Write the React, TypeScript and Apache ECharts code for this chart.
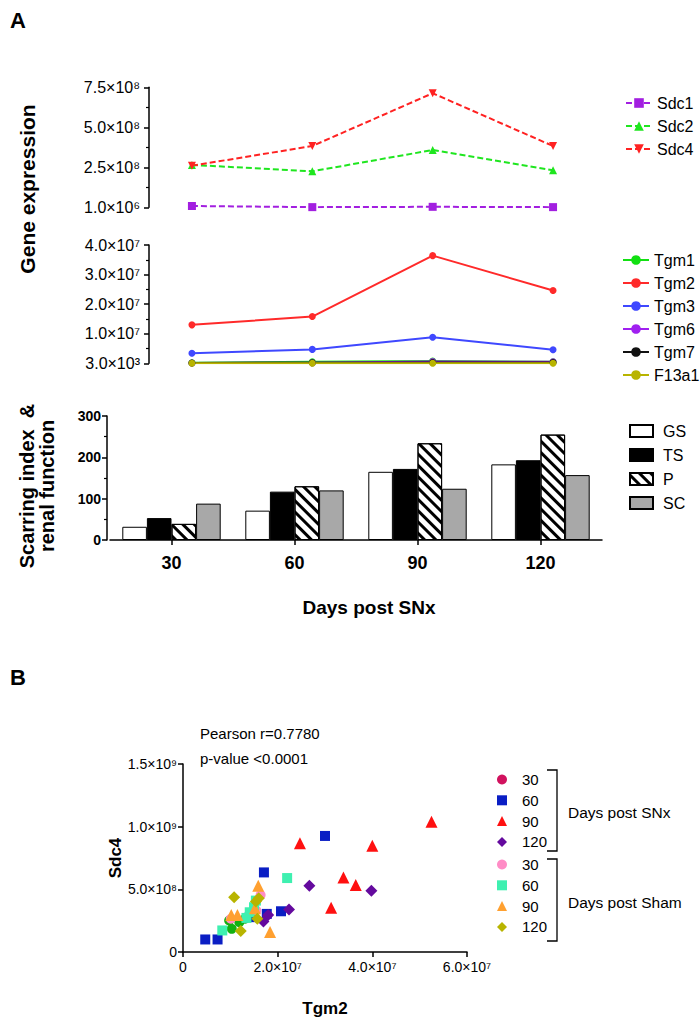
import React, { useEffect, useRef } from 'react';
import * as echarts from 'echarts';

// ---------- data ----------
const days = [30, 60, 90, 120];
const dayLabels = ['30', '60', '90', '120'];

const sdcNames = ['Sdc1', 'Sdc2', 'Sdc4'];
const sdc1 = [8e6, 1e6, 3e6, 1e6];
const sdc2 = [2.65e8, 2.25e8, 3.58e8, 2.31e8];
const sdc4 = [2.6e8, 3.83e8, 7.13e8, 3.83e8];
const sdcTicks = ['1.0×10⁶', '2.5×10⁸', '5.0×10⁸', '7.5×10⁸'];

const tgmNames = ['Tgm1', 'Tgm2', 'Tgm3', 'Tgm6', 'Tgm7', 'F13a1'];
const tgm1 = [2e5, 5e5, 8e5, 5e5];
const tgm2 = [1.3e7, 1.58e7, 3.64e7, 2.46e7];
const tgm3 = [3.4e6, 4.7e6, 8.8e6, 4.6e6];
const tgm6 = [1e5, 2e5, 6e5, 5e5];
const tgm7 = [1e5, 2e5, 3e5, 3e5];
const f13a1 = [3e3, 3e3, 3e3, 3e3];
const tgmTicks = ['3.0×10³', '1.0×10⁷', '2.0×10⁷', '3.0×10⁷', '4.0×10⁷'];

const barNames = ['GS', 'TS', 'P', 'SC'];
const gsVals = [32, 71, 165, 183];
const tsVals = [53, 117, 172, 193];
const pVals = [39, 130, 234, 255];
const scVals = [88, 120, 124, 157];

// scatter: [Tgm2, Sdc4]
const snx30 = [[9.75e6, 2.51e8], [1.03e7, 1.85e8], [1.19e7, 2.38e8], [1.31e7, 2.65e8]];
const snx60 = [[4.7e6, 1.0e8], [7.3e6, 1.0e8], [1.41e7, 2.78e8], [1.71e7, 6.35e8], [1.77e7, 3.04e8], [2.07e7, 3.25e8], [3.0e7, 9.26e8]];
const snx90 = [[2.47e7, 8.68e8], [5.25e7, 1.04e9], [4.0e7, 8.47e8], [3.39e7, 5.95e8], [3.65e7, 5.34e8], [3.13e7, 3.54e8]];
const snx120 = [[2.67e7, 5.29e8], [3.98e7, 4.89e8], [2.24e7, 3.39e8], [1.8e7, 2.96e8], [1.7e7, 2.43e8]];
const sham30 = [[1.01e7, 2.65e8], [1.64e7, 4.55e8], [1.55e7, 3.31e8]];
const sham60 = [[8.3e6, 1.72e8], [2.2e7, 5.9e8], [1.34e7, 2.72e8], [1.41e7, 3.17e8], [1.5e7, 3.57e8], [1.54e7, 4.1e8]];
const sham90 = [[1.02e7, 2.96e8], [1.15e7, 2.96e8], [1.59e7, 5.29e8], [1.84e7, 1.59e8], [1.52e7, 3.49e8]];
const sham120 = [[1.08e7, 4.37e8], [1.22e7, 1.67e8], [1.57e7, 2.65e8], [1.54e7, 4.02e8], [1.6e7, 4.29e8]];
const scatterXTicks = ['0', '2.0×10⁷', '4.0×10⁷', '6.0×10⁷'];
const scatterYTicks = ['0', '5.0×10⁸', '1.0×10⁹', '1.5×10⁹'];
const pearsonR = 'Pearson r=0.7780';
const pValue = 'p-value <0.0001';

const FONT = 'Arial, "Liberation Sans", Helvetica, sans-serif';

const axisLine = { show: true, lineStyle: { color: '#000', width: 1.5 } };
const axisTick = { show: true, inside: false, length: 5, lineStyle: { color: '#000', width: 1.5 } };
const minorTick = { show: true, splitNumber: 2, length: 3, lineStyle: { color: '#000', width: 1.2 } };

function lineSeries(name: string, vals: number[], idx: number, color: string, symbol: string, dashed: boolean, extra: any = {}) {
  return {
    name,
    type: 'line',
    xAxisIndex: idx,
    yAxisIndex: idx,
    data: days.map((d, i) => [d, vals[i]]),
    symbol,
    symbolSize: dashed ? 8 : 7,
    itemStyle: { color },
    lineStyle: { color, width: 2, type: dashed ? [6, 3] : 'solid' },
    ...extra,
  };
}

function scatterSeries(name: string, data: number[][], color: string, symbol: string, size: number) {
  return {
    name,
    type: 'scatter',
    xAxisIndex: 3,
    yAxisIndex: 3,
    data,
    symbol,
    symbolSize: size,
    itemStyle: { color, opacity: 1 },
  };
}

export default function App() {
  const ref = useRef<HTMLDivElement>(null);
  useEffect(() => {
    const chart = echarts.init(ref.current!, null, { renderer: 'svg' });
    const option: any = {
      animation: false,
      backgroundColor: '#fff',
      textStyle: { fontFamily: FONT, color: '#000' },
      grid: [
        { left: 149, top: 87.3, width: 451, height: 120 },
        { left: 149, top: 245, width: 451, height: 118.3 },
        { left: 110, top: 416, width: 492, height: 124 },
        { left: 183, top: 764, width: 284, height: 189 },
      ],
      xAxis: [
        { type: 'value', gridIndex: 0, min: 19.3, max: 131.7, show: false },
        { type: 'value', gridIndex: 1, min: 19.3, max: 131.7, show: false },
        {
          type: 'category', gridIndex: 2, data: dayLabels,
          axisLine, axisTick: { ...axisTick, alignWithLabel: true },
          axisLabel: { fontSize: 18, fontWeight: 'bold', color: '#000', margin: 14, fontFamily: FONT },
        },
        {
          type: 'value', gridIndex: 3, min: 0, max: 6e7, interval: 2e7,
          axisLine, axisTick, splitLine: { show: false },
          axisLabel: { fontSize: 14, color: '#000', margin: 8, fontFamily: FONT, formatter: (v: number) => scatterXTicks[Math.round(v / 2e7)] },
          name: 'Tgm2', nameLocation: 'middle', nameGap: 48,
          nameTextStyle: { fontSize: 17, fontWeight: 'bold', color: '#000', fontFamily: FONT },
        },
      ],
      yAxis: [
        {
          type: 'value', gridIndex: 0, min: 0, max: 7.5e8, interval: 2.5e8,
          axisLine, axisTick, minorTick, splitLine: { show: false },
          axisLabel: { fontSize: 16, color: '#000', margin: 9, fontFamily: FONT, formatter: (v: number) => sdcTicks[Math.round(v / 2.5e8)] },
        },
        {
          type: 'value', gridIndex: 1, min: 0, max: 4e7, interval: 1e7,
          axisLine, axisTick, minorTick, splitLine: { show: false },
          axisLabel: { fontSize: 16, color: '#000', margin: 9, fontFamily: FONT, formatter: (v: number) => tgmTicks[Math.round(v / 1e7)] },
        },
        {
          type: 'value', gridIndex: 2, min: 0, max: 300, interval: 100, offset: 3,
          axisLine, axisTick, minorTick, splitLine: { show: false },
          axisLabel: { fontSize: 14, fontWeight: 'bold', color: '#000', margin: 6, fontFamily: FONT },
        },
        {
          type: 'value', gridIndex: 3, min: 0, max: 1.5e9, interval: 5e8,
          axisLine, axisTick, splitLine: { show: false },
          axisLabel: { fontSize: 14, color: '#000', margin: 6, fontFamily: FONT, formatter: (v: number) => scatterYTicks[Math.round(v / 5e8)] },
          name: 'Sdc4', nameLocation: 'middle', nameGap: 38,
          nameTextStyle: { fontSize: 17, fontWeight: 'bold', color: '#000', fontFamily: FONT },
        },
      ],
      legend: [
        {
          data: sdcNames, orient: 'vertical', left: 620, top: 90, itemWidth: 26, itemHeight: 12, itemGap: 7,
          selectedMode: false, textStyle: { fontSize: 16, color: '#000', fontFamily: FONT },
        },
        {
          data: tgmNames, orient: 'vertical', left: 617, top: 247, itemWidth: 26, itemHeight: 12, itemGap: 7,
          selectedMode: false, textStyle: { fontSize: 16, color: '#000', fontFamily: FONT },
        },
        {
          data: barNames, orient: 'vertical', left: 624, top: 418, itemWidth: 23, itemHeight: 12, itemGap: 8,
          icon: 'rect', selectedMode: false, textStyle: { fontSize: 16, color: '#000', fontFamily: FONT, padding: [0, 0, 0, 5] },
        },
        {
          data: [
            { name: 'SNx 30', itemStyle: { color: '#d1125e' } },
            'SNx 60', 'SNx 90', 'SNx 120',
          ],
          orient: 'vertical', left: 492, top: 767, itemWidth: 10, itemHeight: 10, itemGap: 5.8,
          selectedMode: false, formatter: (n: string) => n.split(' ')[1],
          textStyle: { fontSize: 15, color: '#000', fontFamily: FONT, padding: [0, 0, 0, 10] },
        },
        {
          data: ['Sham 30', 'Sham 60', 'Sham 90', 'Sham 120'],
          orient: 'vertical', left: 492, top: 852, itemWidth: 10, itemHeight: 10, itemGap: 5.8,
          selectedMode: false, formatter: (n: string) => n.split(' ')[1],
          textStyle: { fontSize: 15, color: '#000', fontFamily: FONT, padding: [0, 0, 0, 10] },
        },
      ],
      series: [
        lineSeries('Sdc1', sdc1, 0, '#a21fe0', 'rect', true),
        lineSeries('Sdc2', sdc2, 0, '#1fe61f', 'triangle', true),
        lineSeries('Sdc4', sdc4, 0, '#ff2222', 'triangle', true, { symbolRotate: 180 }),
        lineSeries('Tgm1', tgm1, 1, '#12e012', 'circle', false),
        lineSeries('Tgm2', tgm2, 1, '#ff2a2a', 'circle', false),
        lineSeries('Tgm3', tgm3, 1, '#3f48ff', 'circle', false),
        lineSeries('Tgm6', tgm6, 1, '#a020f0', 'circle', false),
        lineSeries('Tgm7', tgm7, 1, '#111111', 'circle', false),
        lineSeries('F13a1', f13a1, 1, '#b8b400', 'circle', false),
        {
          name: 'GS', type: 'bar', xAxisIndex: 2, yAxisIndex: 2, data: gsVals,
          barCategoryGap: '20%', barGap: '0%',
          itemStyle: { color: '#ffffff', borderColor: '#000', borderWidth: 1 },
        },
        {
          name: 'TS', type: 'bar', xAxisIndex: 2, yAxisIndex: 2, data: tsVals,
          barCategoryGap: '20%', barGap: '0%',
          itemStyle: { color: '#000000', borderColor: '#000', borderWidth: 1 },
        },
        {
          name: 'P', type: 'bar', xAxisIndex: 2, yAxisIndex: 2, data: pVals,
          barCategoryGap: '20%', barGap: '0%',
          itemStyle: {
            color: '#ffffff', borderColor: '#000', borderWidth: 1,
            decal: {
              symbol: 'rect', symbolSize: 1, dashArrayX: [[1, 0]], dashArrayY: [2.5, 4.5],
              rotation: Math.PI / 4, color: '#000', backgroundColor: '#fff',
            },
          },
        },
        {
          name: 'SC', type: 'bar', xAxisIndex: 2, yAxisIndex: 2, data: scVals,
          barCategoryGap: '20%', barGap: '0%',
          itemStyle: { color: '#a8a8a8', borderColor: '#000', borderWidth: 1 },
        },
        scatterSeries('SNx 30', snx30, '#12b012', 'circle', 10),
        scatterSeries('SNx 60', snx60, '#0a1ec4', 'rect', 10),
        scatterSeries('SNx 90', snx90, '#ff1010', 'triangle', 12),
        scatterSeries('SNx 120', snx120, '#640a9e', 'diamond', 12),
        scatterSeries('Sham 30', sham30, '#ff8cc6', 'circle', 10),
        scatterSeries('Sham 60', sham60, '#3ef0b0', 'rect', 10),
        scatterSeries('Sham 90', sham90, '#ffa030', 'triangle', 12),
        scatterSeries('Sham 120', sham120, '#b8b400', 'diamond', 12),
      ],
      graphic: [
        { type: 'text', left: 10, top: 9, style: { text: 'A', fontSize: 22, fontWeight: 'bold', fill: '#000', fontFamily: FONT } },
        { type: 'text', left: 10, top: 666, style: { text: 'B', fontSize: 22, fontWeight: 'bold', fill: '#000', fontFamily: FONT } },
        {
          type: 'text', x: 27, y: 189, rotation: Math.PI / 2,
          style: { text: 'Gene expression', fontSize: 21, fontWeight: 'bold', fill: '#000', fontFamily: FONT, align: 'center', verticalAlign: 'middle' },
        },
        {
          type: 'text', x: 37, y: 486, rotation: Math.PI / 2,
          style: { text: 'Scarring index  &\nrenal function', fontSize: 20, lineHeight: 20, fontWeight: 'bold', fill: '#000', fontFamily: FONT, align: 'center', verticalAlign: 'middle' },
        },
        {
          type: 'text', x: 369, y: 607,
          style: { text: 'Days post SNx', fontSize: 19, fontWeight: 'bold', fill: '#000', fontFamily: FONT, align: 'center', verticalAlign: 'middle' },
        },
        {
          type: 'text', x: 200, y: 733,
          style: { text: pearsonR, fontSize: 15, fill: '#000', fontFamily: FONT, verticalAlign: 'middle' },
        },
        {
          type: 'text', x: 200, y: 758,
          style: { text: pValue, fontSize: 15, fill: '#000', fontFamily: FONT, verticalAlign: 'middle' },
        },
        {
          type: 'polyline',
          shape: { points: [[547, 770], [557, 770], [557, 851], [547, 851]] },
          style: { stroke: '#000', lineWidth: 1.3, fill: null },
        },
        {
          type: 'polyline',
          shape: { points: [[547, 859], [557, 859], [557, 941], [547, 941]] },
          style: { stroke: '#000', lineWidth: 1.3, fill: null },
        },
        {
          type: 'text', x: 568, y: 812,
          style: { text: 'Days post SNx', fontSize: 15.5, fill: '#000', fontFamily: FONT, verticalAlign: 'middle' },
        },
        {
          type: 'text', x: 568, y: 902,
          style: { text: 'Days post Sham', fontSize: 15.5, fill: '#000', fontFamily: FONT, verticalAlign: 'middle' },
        },
      ],
    };
    chart.setOption(option);
    return () => chart.dispose();
  }, []);
  return (
    <div
      ref={ref}
      style={{ position: 'fixed', left: 0, top: 0, width: 700, height: 1018, background: '#fff' }}
    />
  );
}
